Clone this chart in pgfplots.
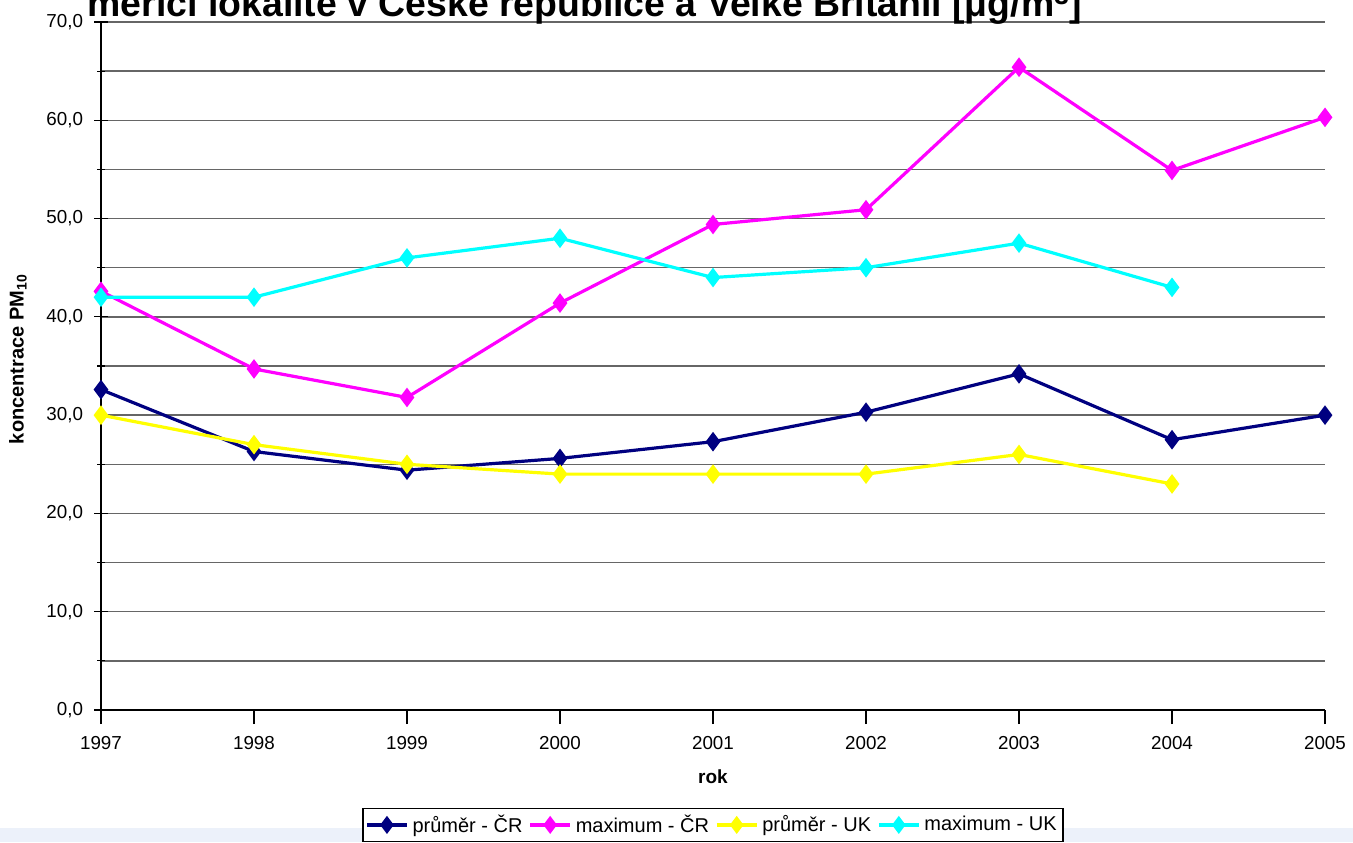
\documentclass[border=0pt]{standalone}
\usepackage{pgfplots}
\pgfplotsset{compat=1.18}
\usepackage{fontspec}
\setmainfont{Liberation Sans}
\definecolor{xnavy}{RGB}{0,0,128}
\definecolor{xmag}{RGB}{255,0,255}
\definecolor{xyel}{RGB}{255,255,0}
\definecolor{xcyan}{RGB}{0,255,255}
\definecolor{bgblue}{RGB}{236,241,250}
\begin{document}
\begin{tikzpicture}
\fill[bgblue] (-50.5pt,-66pt) rectangle (626pt,-59pt);
\begin{axis}[
  at={(0,0)}, anchor=south west,
  scale only axis, width=612pt, height=344pt,
  xmin=1997, xmax=2005, ymin=0, ymax=70,
  axis lines=left, axis line style={-, black, line width=0.6pt},
  xtick={1997,1998,...,2005},
  ytick={0,10,...,70},
  minor ytick={5,15,...,65},
  ymajorgrids, yminorgrids,
  major grid style={gray!80!black, line width=0.7pt},
  minor grid style={gray!80!black, line width=0.7pt},
  tick style={black, line width=0.6pt},
  xtick align=outside, ytick align=center,
  major tick length=7pt, minor tick length=4pt,
  tick label style={font=\fontsize{9.4}{11}\selectfont},
  /pgf/number format/assume math mode=true,
  xticklabel style={/pgf/number format/1000 sep={}, yshift=-2.5pt},
  yticklabel style={/pgf/number format/.cd, fixed, fixed zerofill, precision=1, use comma, /tikz/.cd, xshift=-2pt},
  xlabel={\bfseries rok},
  ylabel={\bfseries koncentrace PM\textsubscript{10}},
  xlabel style={font=\fontsize{9.5}{11}\selectfont, at={(axis description cs:0.5,-0.0974)}, anchor=center},
  ylabel style={font=\fontsize{10}{12}\selectfont, at={(axis description cs:-0.0678,0.51)}, anchor=center},
  every axis plot/.append style={line width=1.6pt, mark=diamond*, mark size=3.6pt},
  legend columns=4,
  legend style={at={(axis description cs:0.5,-0.167)}, anchor=center, draw=black, line width=0.6pt,
    font=\fontsize{10}{12}\selectfont, /tikz/every even column/.append style={column sep=1pt},
    inner sep=1.2pt},
  legend image code/.code={\draw[mark repeat=2, mark phase=2, mark size=3.2pt, #1] plot coordinates {(0pt,0pt) (10pt,0pt) (20pt,0pt)};},
]
\addplot[color=xnavy, mark options={fill=xnavy}] coordinates {
(1997,32.6) (1998,26.3) (1999,24.4) (2000,25.6) (2001,27.3) (2002,30.3) (2003,34.2) (2004,27.5) (2005,30.0)};
\addlegendentry{průměr - ČR}
\addplot[color=xmag, mark options={fill=xmag}] coordinates {
(1997,42.6) (1998,34.7) (1999,31.8) (2000,41.4) (2001,49.4) (2002,50.9) (2003,65.4) (2004,54.9) (2005,60.3)};
\addlegendentry{maximum - ČR}
\addplot[color=xyel, mark options={fill=xyel}] coordinates {
(1997,30) (1998,27) (1999,25) (2000,24) (2001,24) (2002,24) (2003,26) (2004,23)};
\addlegendentry{průměr - UK}
\addplot[color=xcyan, mark options={fill=xcyan}] coordinates {
(1997,42) (1998,42) (1999,46) (2000,48) (2001,44) (2002,45) (2003,47.5) (2004,43)};
\addlegendentry{maximum - UK}
\end{axis}
\node[font=\fontsize{18.7}{22}\selectfont\bfseries, anchor=base] at (242pt,346.5pt) {měřicí lokalitě v České republice a Velké Británii [μg/m\textsuperscript{3}]};
\pgfresetboundingbox
\useasboundingbox (-50.5pt,-66pt) rectangle (626pt,355pt);
\end{tikzpicture}
\end{document}
